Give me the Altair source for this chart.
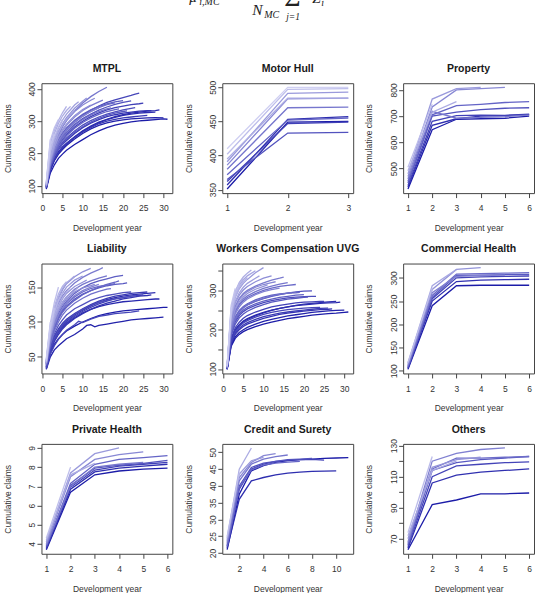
import altair as alt
import pandas as pd

# ---------------- data: one list of (development year, cumulative claims) per accident year,
# oldest accident year first ----------------
MTPL = [
    [(1,90),(2,140),(3,165),(4,185),(5,198),(6,210),(8,228),(10,243),(12,258),(14,270),(16,280),(18,288),(20,293),(22,298),(24,301),(26,303),(28,305),(30,307),(31,306)],
    [(1,92),(2,148),(3,178),(4,198),(5,212),(6,225),(8,245),(10,262),(12,276),(14,287),(16,295),(18,300),(20,304),(22,307),(24,309),(26,310),(28,311),(30,310)],
    [(1,95),(2,155),(3,185),(4,205),(5,220),(6,232),(8,252),(10,270),(12,285),(14,297),(16,306),(18,314),(20,320),(22,325),(24,328),(26,331),(28,333),(29,335)],
    [(1,93),(2,150),(3,180),(4,200),(5,215),(6,228),(8,250),(10,268),(12,283),(14,295),(16,305),(18,312),(20,318),(22,322),(24,325),(26,327),(28,328)],
    [(1,96),(2,158),(3,190),(4,212),(5,228),(6,240),(8,262),(10,280),(12,294),(14,305),(16,314),(18,320),(20,325),(22,328),(24,331),(26,333),(27,333)],
    [(1,94),(2,152),(3,182),(4,203),(5,218),(6,230),(8,250),(10,266),(12,280),(14,292),(16,300),(18,306),(20,310),(22,313),(24,316),(26,318)],
    [(1,98),(2,165),(3,200),(4,225),(5,243),(6,258),(8,282),(10,300),(12,314),(14,326),(16,335),(18,342),(20,347),(22,351),(24,354),(25,356)],
    [(1,100),(2,172),(3,210),(4,238),(5,258),(6,275),(8,300),(10,318),(12,334),(14,347),(16,358),(18,366),(20,373),(22,380),(23,384),(24,387)],
    [(1,96),(2,160),(3,193),(4,217),(5,234),(6,248),(8,270),(10,288),(12,302),(14,313),(16,322),(18,329),(20,335),(22,340),(23,342)],
    [(1,99),(2,168),(3,205),(4,230),(5,250),(6,265),(8,290),(10,308),(12,322),(14,334),(16,344),(18,352),(20,358),(22,363)],
    [(1,95),(2,158),(3,190),(4,213),(5,230),(6,244),(8,266),(10,283),(12,297),(14,309),(16,318),(18,325),(20,330),(21,332)],
    [(1,101),(2,175),(3,215),(4,243),(5,263),(6,279),(8,303),(10,321),(12,335),(14,346),(16,354),(18,360),(20,364)],
    [(1,97),(2,163),(3,198),(4,222),(5,240),(6,255),(8,278),(10,296),(12,310),(14,321),(16,330),(18,336),(19,338)],
    [(1,100),(2,170),(3,208),(4,235),(5,255),(6,271),(8,296),(10,315),(12,330),(14,342),(16,351),(18,357)],
    [(1,98),(2,166),(3,203),(4,229),(5,248),(6,263),(8,287),(10,305),(12,319),(14,330),(16,338),(17,341)],
    [(1,103),(2,182),(3,225),(4,257),(5,282),(6,302),(8,332),(10,356),(12,376),(14,392),(16,405)],
    [(1,101),(2,176),(3,218),(4,248),(5,270),(6,287),(8,313),(10,333),(12,348),(14,360),(15,365)],
    [(1,99),(2,170),(3,210),(4,238),(5,258),(6,274),(8,298),(10,316),(12,330),(14,341)],
    [(1,104),(2,185),(3,230),(4,262),(5,285),(6,303),(8,330),(10,350),(12,365),(13,371)],
    [(1,102),(2,180),(3,222),(4,252),(5,274),(6,291),(8,317),(10,336),(12,350)],
    [(1,105),(2,190),(3,236),(4,268),(5,292),(6,311),(8,340),(10,362),(11,372)],
    [(1,100),(2,178),(3,220),(4,250),(5,272),(6,289),(8,315),(10,334)],
    [(1,106),(2,195),(3,244),(4,278),(5,303),(6,322),(8,350),(9,360)],
    [(1,103),(2,186),(3,232),(4,264),(5,288),(6,306),(8,334)],
    [(1,106),(2,215),(3,262),(4,293),(5,316),(6,333),(7,346)],
    [(1,108),(2,230),(3,272),(4,302),(5,326),(6,346)],
    [(1,104),(2,205),(3,250),(4,282),(5,305)],
    [(1,110),(2,240),(3,280),(4,305)],
    [(1,107),(2,222),(3,262)],
    [(1,112),(2,245)],
    [(1,109)],
]

MOTOR_HULL = [
    [(1,351),(2,449),(3,450)],
    [(1,357),(2,453),(3,457)],
    [(1,362),(2,447),(3,449)],
    [(1,365),(2,433),(3,434)],
    [(1,372),(2,452),(3,455)],
    [(1,380),(2,470),(3,471)],
    [(1,386),(2,483),(3,484)],
    [(1,391),(2,491),(3,493)],
    [(1,395),(2,484),(3,484)],
    [(1,402),(2,497),(3,498)],
    [(1,410),(2,500),(3,500)],
]

PROPERTY = [
    [(1,422),(2,648),(3,688),(4,690),(5,692),(6,700)],
    [(1,430),(2,665),(3,690),(4,700),(5,702),(6,706)],
    [(1,436),(2,680),(3,702),(4,704),(5,703),(6,708)],
    [(1,445),(2,700),(3,715),(4,725),(5,730),(6,732)],
    [(1,452),(2,705),(3,740),(4,745),(5,752),(6,755)],
    [(1,460),(2,718),(3,692),(4,695),(5,698),(6,704)],
    [(1,470),(2,735),(3,800),(4,805),(5,810)],
    [(1,480),(2,765),(3,805),(4,810)],
    [(1,492),(2,715),(3,755)],
    [(1,505),(2,745)],
    [(1,515)],
]

LIABILITY = [
    [(1,33),(2,55),(3,68),(4,76),(5,82),(6,87),(8,94),(10,100),(12,105),(14,109),(16,112),(18,114),(20,116),(22,117),(24,118),(26,119),(28,120),(30,121),(31,121)],
    [(1,32),(2,50),(3,60),(4,66),(5,71),(6,76),(8,82),(10,90),(11,95),(12,96),(13,93),(14,95),(16,97),(18,99),(20,101),(22,103),(24,104),(26,105),(28,106),(30,107)],
    [(1,35),(2,60),(3,75),(4,85),(5,92),(6,98),(8,106),(10,113),(12,118),(14,122),(16,125),(18,127),(20,129),(22,130),(24,131),(26,132),(28,133),(29,133)],
    [(1,36),(2,62),(3,78),(4,88),(5,95),(6,101),(8,110),(10,117),(12,123),(14,128),(16,132),(18,135),(20,137),(22,139),(24,140),(26,141),(28,142)],
    [(1,34),(2,58),(3,72),(4,82),(5,90),(6,96),(8,105),(10,112),(12,118),(14,123),(16,127),(18,130),(20,133),(22,135),(24,137),(26,138),(27,139)],
    [(1,37),(2,64),(3,80),(4,90),(5,98),(6,104),(8,112),(10,119),(12,125),(14,130),(16,134),(18,137),(20,139),(22,141),(24,142),(26,143)],
    [(1,35),(2,59),(3,74),(4,85),(5,93),(6,99),(8,108),(10,115),(12,121),(14,126),(16,130),(18,133),(20,135),(22,137),(24,138),(25,139)],
    [(1,33),(2,54),(3,66),(4,75),(5,82),(6,88),(8,96),(9,101),(10,99),(12,104),(14,108),(16,110),(18,112),(20,113),(22,114),(24,116)],
    [(1,36),(2,62),(3,77),(4,88),(5,96),(6,102),(8,111),(10,118),(12,124),(14,128),(16,131),(18,133),(20,135),(22,137),(23,138)],
    [(1,38),(2,66),(3,83),(4,95),(5,103),(6,110),(8,119),(10,125),(12,131),(14,135),(16,138),(18,140),(20,142),(22,143)],
    [(1,40),(2,72),(3,92),(4,106),(5,116),(6,123),(8,133),(10,140),(12,145),(14,149),(16,152),(18,154),(20,155),(21,156)],
    [(1,41),(2,76),(3,97),(4,112),(5,122),(6,130),(8,141),(10,149),(12,155),(14,159),(16,162),(18,165),(20,167)],
    [(1,39),(2,70),(3,90),(4,104),(5,114),(6,121),(8,131),(10,139),(12,145),(14,150),(16,154),(18,157),(19,159)],
    [(1,40),(2,74),(3,94),(4,108),(5,118),(6,126),(8,136),(10,143),(12,148),(14,151),(16,153),(18,155)],
    [(1,38),(2,68),(3,87),(4,100),(5,110),(6,117),(8,127),(10,134),(12,140),(14,144),(16,147),(17,148)],
    [(1,42),(2,80),(3,102),(4,117),(5,128),(6,136),(8,147),(10,154),(12,159),(14,163),(16,166)],
    [(1,43),(2,85),(3,110),(4,126),(5,137),(6,145),(8,156),(10,164),(12,170),(14,175),(15,178)],
    [(1,40),(2,75),(3,96),(4,110),(5,120),(6,128),(8,138),(10,145),(12,150),(14,154)],
    [(1,41),(2,78),(3,100),(4,115),(5,125),(6,133),(8,143),(10,149),(12,152),(13,154)],
    [(1,44),(2,88),(3,115),(4,133),(5,146),(6,155),(8,165),(10,172),(12,177)],
    [(1,42),(2,82),(3,106),(4,122),(5,133),(6,141),(8,151),(10,157),(11,160)],
    [(1,43),(2,86),(3,112),(4,129),(5,141),(6,150),(8,160),(10,166)],
    [(1,41),(2,80),(3,103),(4,118),(5,128),(6,136),(8,145),(9,150)],
    [(1,44),(2,90),(3,118),(4,136),(5,148),(6,156),(8,166)],
    [(1,42),(2,84),(3,108),(4,124),(5,135),(6,143),(7,150)],
    [(1,45),(2,94),(3,122),(4,140),(5,151),(6,158)],
    [(1,43),(2,88),(3,114),(4,131),(5,142)],
    [(1,46),(2,98),(3,128),(4,150)],
    [(1,44),(2,92),(3,120)],
    [(1,47),(2,100)],
    [(1,45)],
]

WORKERS = [
    [(1,99),(2,158),(3,178),(4,188),(5,195),(6,200),(8,208),(10,214),(12,219),(14,224),(16,228),(18,231),(20,234),(22,237),(24,239),(26,241),(28,242),(30,244),(31,245)],
    [(1,100),(2,162),(3,182),(4,193),(5,200),(6,206),(8,214),(10,221),(12,226),(14,231),(16,235),(18,238),(20,241),(22,244),(24,246),(26,248),(28,249),(30,250)],
    [(1,101),(2,175),(3,200),(4,213),(5,222),(6,228),(8,237),(10,244),(12,250),(14,254),(16,258),(18,261),(20,263),(22,265),(24,267),(26,268),(28,269),(29,270)],
    [(1,100),(2,172),(3,198),(4,211),(5,220),(6,226),(8,235),(10,243),(12,249),(14,254),(16,258),(18,262),(20,265),(22,267),(24,269),(26,271),(28,272)],
    [(1,99),(2,165),(3,188),(4,200),(5,208),(6,214),(8,222),(10,229),(12,234),(14,239),(16,242),(18,245),(20,247),(22,249),(24,251),(26,252),(27,253)],
    [(1,100),(2,168),(3,192),(4,204),(5,212),(6,218),(8,226),(10,233),(12,238),(14,242),(16,245),(18,248),(20,250),(22,252),(24,254),(26,255)],
    [(1,101),(2,178),(3,205),(4,219),(5,229),(6,236),(8,245),(10,252),(12,258),(14,262),(16,265),(18,268),(20,270),(22,271),(24,272),(25,272)],
    [(1,100),(2,170),(3,195),(4,208),(5,217),(6,223),(8,232),(10,239),(12,244),(14,248),(16,251),(18,253),(20,255),(22,256),(24,257)],
    [(1,102),(2,190),(3,220),(4,236),(5,246),(6,253),(8,262),(10,269),(12,274),(14,278),(16,281),(18,283),(20,284),(22,285),(23,285)],
    [(1,103),(2,198),(3,230),(4,246),(5,256),(6,263),(8,272),(10,279),(12,285),(14,289),(16,293),(18,296),(20,298),(22,299)],
    [(1,101),(2,185),(3,214),(4,230),(5,240),(6,247),(8,257),(10,264),(12,270),(14,274),(16,278),(18,280),(20,282),(21,283)],
    [(1,102),(2,192),(3,224),(4,240),(5,250),(6,257),(8,266),(10,273),(12,278),(14,282),(16,285),(18,288),(20,289)],
    [(1,103),(2,200),(3,233),(4,249),(5,259),(6,266),(8,276),(10,283),(12,288),(14,291),(16,293),(18,294),(19,295)],
    [(1,104),(2,210),(3,245),(4,263),(5,274),(6,282),(8,292),(10,300),(12,306),(14,310),(16,313),(18,315)],
    [(1,102),(2,195),(3,228),(4,245),(5,256),(6,263),(8,273),(10,280),(12,286),(14,290),(16,293),(17,294)],
    [(1,104),(2,212),(3,248),(4,266),(5,278),(6,286),(8,297),(10,305),(12,311),(14,316),(16,320)],
    [(1,105),(2,222),(3,260),(4,280),(5,292),(6,300),(8,311),(10,319),(12,326),(14,331),(15,334)],
    [(1,103),(2,205),(3,240),(4,258),(5,270),(6,278),(8,289),(10,297),(12,302),(14,306)],
    [(1,105),(2,220),(3,258),(4,277),(5,289),(6,297),(8,308),(10,315),(12,320),(13,322)],
    [(1,106),(2,228),(3,268),(4,288),(5,301),(6,310),(8,322),(10,331),(12,337)],
    [(1,104),(2,215),(3,252),(4,271),(5,283),(6,292),(8,303),(10,310),(11,314)],
    [(1,107),(2,240),(3,282),(4,304),(5,318),(6,328),(8,345),(10,358)],
    [(1,105),(2,230),(3,272),(4,294),(5,308),(6,318),(8,331),(9,337)],
    [(1,106),(2,245),(3,290),(4,313),(5,327),(6,337),(8,350)],
    [(1,108),(2,250),(3,296),(4,320),(5,334),(6,344),(7,352)],
    [(1,106),(2,238),(3,283),(4,307),(5,322),(6,333)],
    [(1,108),(2,252),(3,298),(4,318),(5,330)],
    [(1,107),(2,245),(3,292),(4,315)],
    [(1,109),(2,262),(3,305)],
    [(1,108),(2,258)],
    [(1,110)],
]

COMMERCIAL = [
    [(1,103),(2,240),(3,283),(4,284),(5,284),(6,284)],
    [(1,105),(2,250),(3,292),(4,295),(5,296),(6,297)],
    [(1,106),(2,255),(3,300),(4,302),(5,303),(6,304)],
    [(1,108),(2,258),(3,305),(4,306),(5,307),(6,307)],
    [(1,110),(2,262),(3,308),(4,309),(5,310),(6,311)],
    [(1,112),(2,268),(3,303),(4,305),(5,306)],
    [(1,115),(2,275),(3,318),(4,322)],
    [(1,117),(2,283),(3,318)],
    [(1,118),(2,278)],
    [(1,120)],
]

PRIVATE = [
    [(1,3.70),(2,6.70),(3,7.60),(4,7.80),(5,7.90),(6,7.95)],
    [(1,3.75),(2,6.85),(3,7.75),(4,7.95),(5,8.05),(6,8.15)],
    [(1,3.80),(2,6.95),(3,7.85),(4,8.05),(5,8.15),(6,8.25)],
    [(1,3.85),(2,7.05),(3,7.95),(4,8.10),(5,8.20),(6,8.35)],
    [(1,3.90),(2,7.15),(3,8.15),(4,8.40),(5,8.50),(6,8.60)],
    [(1,3.95),(2,7.00),(3,8.00),(4,8.15),(5,8.25)],
    [(1,4.00),(2,7.50),(3,8.40),(4,8.65),(5,8.80)],
    [(1,4.10),(2,7.70),(3,8.70),(4,9.00)],
    [(1,4.20),(2,7.60),(3,8.20)],
    [(1,4.30),(2,8.00)],
    [(1,4.35)],
]

CREDIT = [
    [(1,21.0),(2,37.5),(3,44.5),(4,46.0),(5,47.0),(6,47.5),(7,47.8),(8,48.0),(9,48.2),(10,48.3),(11,48.4)],
    [(1,21.5),(2,36.0),(3,41.5),(4,42.5),(5,43.3),(6,43.8),(7,44.1),(8,44.3),(9,44.4),(10,44.5)],
    [(1,22.0),(2,39.0),(3,45.0),(4,46.5),(5,47.3),(6,47.6),(7,47.8),(8,47.9),(9,47.7)],
    [(1,22.5),(2,40.0),(3,45.5),(4,46.8),(5,47.3),(6,47.8),(7,48.0),(8,48.2)],
    [(1,22.0),(2,39.5),(3,44.8),(4,46.2),(5,46.8),(6,47.1),(7,47.3)],
    [(1,23.0),(2,41.5),(3,46.5),(4,48.0),(5,48.7),(6,49.2)],
    [(1,23.5),(2,42.5),(3,47.0),(4,49.0),(5,49.6)],
    [(1,24.0),(2,43.5),(3,47.5),(4,48.5)],
    [(1,24.5),(2,45.0),(3,51.3)],
    [(1,25.0),(2,44.0)],
    [(1,25.5)],
]

OTHERS = [
    [(1,63),(2,92),(3,95),(4,99),(5,99),(6,99.5)],
    [(1,64),(2,106),(3,111),(4,113),(5,114),(6,115)],
    [(1,65),(2,110),(3,117),(4,118),(5,119),(6,119.5)],
    [(1,66),(2,114),(3,119),(4,121),(5,122),(6,123)],
    [(1,67),(2,115),(3,122),(4,122),(5,122.5),(6,123)],
    [(1,68),(2,120),(3,125),(4,127.5),(5,128.5)],
    [(1,70),(2,116),(3,121),(4,122.5)],
    [(1,72),(2,114),(3,120)],
    [(1,74),(2,123)],
    [(1,75)],
]

TITLES = ["MTPL", "Motor Hull", "Property", "Liability", "Workers Compensation UVG",
          "Commercial Health", "Private Health", "Credit and Surety", "Others"]
SERIES = [MTPL, MOTOR_HULL, PROPERTY, LIABILITY, WORKERS, COMMERCIAL, PRIVATE, CREDIT, OTHERS]
X_TICKS = [[0,5,10,15,20,25,30], [1,2,3], [1,2,3,4,5,6],
           [0,5,10,15,20,25,30], [0,5,10,15,20,25,30], [1,2,3,4,5,6],
           [1,2,3,4,5,6], [2,4,6,8,10], [1,2,3,4,5,6]]
Y_TICKS = [[100,200,300,400], [350,400,450,500], [500,600,700,800],
           [50,100,150], [100,150,200,250,300,350], [100,150,200,250,300],
           [4,5,6,7,8,9], [20,25,30,35,40,45,50], [70,80,90,100,110,120,130]]
Y_LABELED = [[100,200,300,400], [350,400,450,500], [500,600,700,800],
             [50,100,150], [100,200,300], [100,150,200,250,300],
             [4,5,6,7,8,9], [20,25,30,35,40,45,50], [70,90,110,130]]

X_TITLE = "Development year"
Y_TITLE = "Cumulative claims"

# header formula fragment (cut off at the top of the page)
FORMULA = [
    ("μ", -33, -81, 15), ("i,MC", -23, -78, 10),
    ("N", 30, -68, 15.5), ("MC", 42, -65.5, 10),
    ("Σ", 62, -77, 28), ("j=1", 64, -63.5, 9.5),
    ("Z", 90, -80.5, 15), ("i", 99, -77.5, 10),
]

# ---------------- styling ----------------
W, H = 131, 110
DARK, LIGHT = "#1c1ca8", "#d0d0f2"
FONT = "Liberation Sans"


def expand(lo, hi):
    d = (hi - lo) * 0.04
    return [lo - d, hi + d]


def panel(k):
    lines = SERIES[k]
    n = len(lines)
    rows = []
    for i, ln in enumerate(lines):
        for d, v in ln:
            rows.append({"line": i, "dev": d, "claims": v, "shade": i / (n - 1)})
    df = pd.DataFrame(rows)
    lab = ",".join(str(v) for v in Y_LABELED[k])
    lines_chart = alt.Chart(df).mark_line(strokeWidth=1.3).encode(
        x=alt.X("dev:Q",
                scale=alt.Scale(domain=expand(df.dev.min(), df.dev.max()), nice=False, zero=False),
                axis=alt.Axis(values=X_TICKS[k], format="d", title=X_TITLE,
                              titleX=W / 2, titleY=34.5, titleAlign="center",
                              titleBaseline="middle", labelPadding=6.2)),
        y=alt.Y("claims:Q",
                scale=alt.Scale(domain=expand(df.claims.min(), df.claims.max()), nice=False, zero=False),
                axis=alt.Axis(values=Y_TICKS[k], format="d",
                              labelExpr=f"indexof([{lab}], datum.value) >= 0 ? datum.label : ''",
                              title=Y_TITLE, titleX=-34.3, titleY=H / 2, titleAngle=-90,
                              titleAlign="center", titleBaseline="middle",
                              labelAngle=-90, labelAlign="center", labelBaseline="alphabetic",
                              labelPadding=2.2)),
        detail="line:N",
        color=alt.Color("shade:Q",
                        scale=alt.Scale(domain=[0, 1], range=[DARK, LIGHT], interpolate="rgb"),
                        legend=None),
    )
    title_chart = alt.Chart(pd.DataFrame({"t": [TITLES[k]]})).mark_text(
        font=FONT, fontSize=10.5, fontWeight="bold", align="center",
        baseline="alphabetic", color="#1a1a1a"
    ).encode(x=alt.value(W / 2), y=alt.value(-11.3), text="t:N")
    layers = [lines_chart, title_chart]
    if k == 1:
        for txt, fx, fy, fs in FORMULA:
            italic = txt != "Σ"
            layers.append(
                alt.Chart(pd.DataFrame({"t": [txt]})).mark_text(
                    font="Liberation Serif", fontSize=fs,
                    fontStyle="italic" if italic else "normal",
                    align="left", baseline="alphabetic", color="#222"
                ).encode(x=alt.value(fx), y=alt.value(fy), text="t:N")
            )
    return alt.layer(*layers).properties(width=W, height=H)


chart = alt.concat(*[panel(k) for k in range(9)], columns=3,
                   spacing={"row": 70.5, "column": 50}, bounds="flush")
chart = chart.properties(
    padding={"left": 2.5, "top": -17, "right": 4, "bottom": 30}
).configure_view(
    stroke="#444", strokeWidth=1
).configure_axis(
    domain=False, grid=False, tickColor="#444", tickSize=4.5, tickWidth=1,
    labelFont=FONT, labelFontSize=8.5, labelColor="#333",
    titleFont=FONT, titleFontSize=8.5, titleFontWeight="normal", titleColor="#333",
    labelOverlap=False, labelFlush=False
)

chart.save("out.html", embed_options={"renderer": "svg", "actions": False})
